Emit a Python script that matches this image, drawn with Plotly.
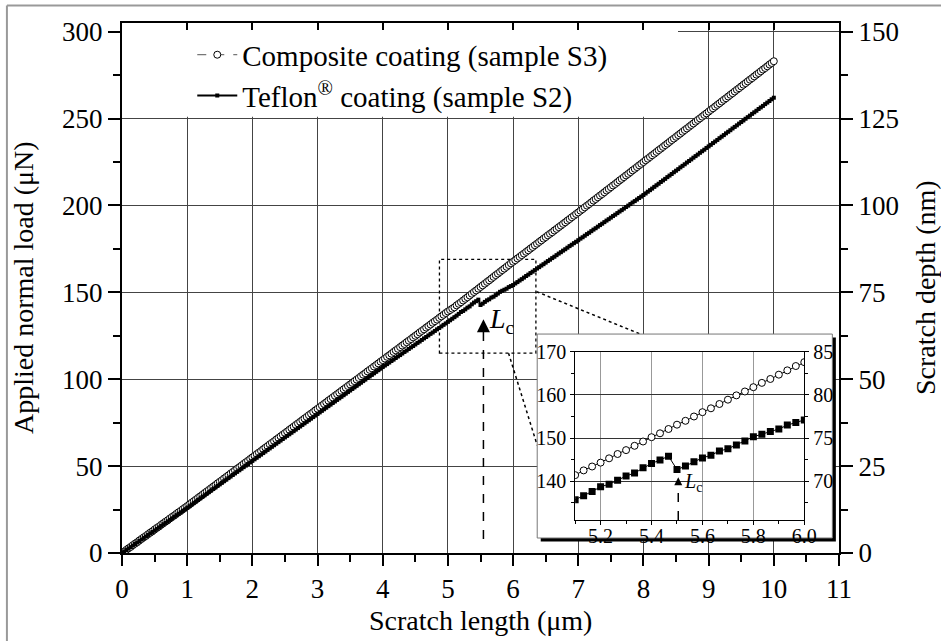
import plotly.graph_objects as go

# ---------------- data ----------------
# scratch length samples: one every 1/30 µm from 0 to 10 µm
n_pts = 301
scratch_len = [round(i / 30, 4) for i in range(n_pts)]

composite_load = [
    0.0,0.8,1.8,2.7,3.5,4.5,5.4,6.2,7.2,8.1,9.0,9.8,10.8,11.7,12.5,13.5,14.4,15.2,16.2,17.1,18.0,18.8,19.8,20.7,21.5,22.5,23.4,24.2,25.2,26.1,
    27.0,27.9,28.9,29.8,30.7,31.7,32.6,33.5,34.5,35.4,36.3,37.3,38.2,39.1,40.1,41.0,41.9,42.9,43.8,44.7,45.7,46.6,47.5,48.5,49.4,50.3,51.3,52.2,53.1,54.1,
    55.0,55.9,56.9,57.8,58.7,59.7,60.6,61.5,62.5,63.4,64.3,65.3,66.2,67.1,68.1,69.0,69.9,70.9,71.8,72.7,73.7,74.6,75.5,76.5,77.4,78.3,79.3,80.2,81.1,82.1,
    83.0,83.9,84.9,85.8,86.7,87.7,88.6,89.5,90.5,91.4,92.3,93.3,94.2,95.1,96.1,97.0,97.9,98.9,99.8,100.7,101.7,102.6,103.5,104.5,105.4,106.3,107.3,108.2,109.1,110.1,
    111.0,111.9,112.9,113.8,114.7,115.7,116.6,117.5,118.5,119.4,120.3,121.3,122.2,123.1,124.1,125.0,125.9,126.9,127.8,128.7,129.7,130.6,131.5,132.5,133.4,134.3,135.3,136.2,137.1,138.1,
    139.0,139.8,140.6,141.4,142.5,143.4,144.3,145.3,146.3,147.2,148.2,149.2,150.2,151.1,152.1,153.1,154.0,155.0,156.0,156.9,157.9,158.9,159.9,160.8,161.8,162.8,163.7,164.7,165.7,166.7,
    167.6,168.5,169.5,170.4,171.4,172.3,173.3,174.2,175.2,176.1,177.1,178.0,179.0,179.9,180.9,181.8,182.8,183.7,184.6,185.6,186.5,187.5,188.4,189.4,190.3,191.3,192.2,193.2,194.1,195.1,
    196.0,197.0,197.9,198.9,199.9,200.8,201.8,202.8,203.7,204.7,205.7,206.6,207.6,208.6,209.5,210.5,211.5,212.4,213.4,214.4,215.3,216.3,217.3,218.2,219.2,220.2,221.1,222.1,223.1,224.0,
    225.0,226.0,226.9,227.9,228.9,229.8,230.8,231.8,232.7,233.7,234.7,235.6,236.6,237.6,238.5,239.5,240.5,241.4,242.4,243.4,244.3,245.3,246.3,247.2,248.2,249.2,250.1,251.1,252.1,253.0,
    254.0,255.0,255.9,256.9,257.9,258.8,259.8,260.8,261.7,262.7,263.7,264.6,265.6,266.6,267.5,268.5,269.5,270.4,271.4,272.4,273.3,274.3,275.3,276.2,277.2,278.2,279.1,280.1,281.1,282.0,283.0,
]

teflon_load = [
    0.0,0.8,1.7,2.6,3.4,4.3,5.2,6.0,6.9,7.8,8.7,9.5,10.4,11.3,12.1,13.0,13.9,14.7,15.6,16.5,17.3,18.2,19.1,19.9,20.8,21.7,22.5,23.4,24.3,25.1,
    26.0,26.9,27.8,28.7,29.6,30.5,31.4,32.3,33.2,34.1,35.0,35.9,36.8,37.7,38.6,39.5,40.4,41.3,42.2,43.1,44.0,44.9,45.8,46.7,47.6,48.5,49.4,50.3,51.2,52.1,
    53.0,53.9,54.8,55.7,56.6,57.5,58.4,59.3,60.2,61.1,62.0,62.9,63.8,64.7,65.6,66.5,67.4,68.3,69.2,70.1,71.0,71.9,72.8,73.7,74.6,75.5,76.4,77.3,78.2,79.1,
    80.0,80.9,81.8,82.7,83.6,84.5,85.4,86.3,87.2,88.1,89.0,89.9,90.8,91.7,92.6,93.5,94.4,95.3,96.2,97.1,98.0,98.9,99.8,100.7,101.6,102.5,103.4,104.3,105.2,106.1,
    107.0,107.9,108.7,109.6,110.5,111.3,112.2,113.1,113.9,114.8,115.7,116.5,117.4,118.3,119.1,120.0,120.9,121.7,122.6,123.5,124.3,125.2,126.1,126.9,127.8,128.7,129.5,130.4,131.3,132.1,
    133.0,133.9,134.8,135.7,136.6,137.6,138.7,139.3,140.2,141.2,141.9,143.1,144.1,144.9,145.8,142.7,143.5,144.5,145.4,146.0,147.0,147.5,148.4,149.3,150.3,150.9,151.5,152.1,153.0,153.6,
    154.2,155.1,155.9,156.8,157.6,158.5,159.4,160.2,161.1,161.9,162.8,163.7,164.5,165.4,166.2,167.1,168.0,168.8,169.7,170.5,171.4,172.3,173.1,174.0,174.8,175.7,176.6,177.4,178.3,179.1,
    180.0,180.9,181.7,182.6,183.5,184.3,185.2,186.1,186.9,187.8,188.7,189.5,190.4,191.3,192.1,193.0,193.9,194.7,195.6,196.5,197.3,198.2,199.1,199.9,200.8,201.7,202.5,203.4,204.3,205.1,
    206.0,206.9,207.9,208.8,209.7,210.7,211.6,212.5,213.5,214.4,215.3,216.3,217.2,218.1,219.1,220.0,220.9,221.9,222.8,223.7,224.7,225.6,226.5,227.5,228.4,229.3,230.3,231.2,232.1,233.1,
    234.0,234.9,235.9,236.8,237.7,238.7,239.6,240.5,241.5,242.4,243.3,244.3,245.2,246.1,247.1,248.0,248.9,249.9,250.8,251.7,252.7,253.6,254.5,255.5,256.4,257.3,258.3,259.2,260.1,261.1,262.0,
]

series_names = ["Composite coating (sample S3)", "Teflon<sup>®</sup> coating (sample S2)"]
x_title = "Scratch length (μm)"
y_title = "Applied normal load (μN)"
y2_title = "Scratch depth (nm)"
lc_label = "<i>L</i><sub>c</sub>"
lc_main_x = 5.545        # position of the Lc marker in the main plot (µm)
lc_inset_x = 5.505       # position of the Lc marker in the inset (µm)
inset_xtickvals = [5.2, 5.4, 5.6, 5.8, 6.0]
inset_xticktext = ["5.2", "5.4", "5.6", "5.8", "6.0"]

FONT = "Liberation Serif, Times New Roman, Times, DejaVu Serif, serif"

fig = go.Figure()

# main traces
fig.add_trace(go.Scatter(
    x=scratch_len, y=composite_load, name=series_names[0], mode="lines+markers",
    line=dict(color="#555", width=1, dash="dash"),
    marker=dict(symbol="circle", size=7, color="white", line=dict(color="black", width=1)),
    xaxis="x", yaxis="y"))
fig.add_trace(go.Scatter(
    x=scratch_len, y=teflon_load, name=series_names[1], mode="lines+markers",
    line=dict(color="black", width=2),
    marker=dict(symbol="square", size=4, color="black"),
    xaxis="x", yaxis="y"))

# Lc marker (main): dashed guide + arrow head
fig.add_trace(go.Scatter(x=[lc_main_x, lc_main_x], y=[8, 131], mode="lines",
                         line=dict(color="black", width=1.5, dash="dash"),
                         showlegend=False, hoverinfo="skip", xaxis="x", yaxis="y"))
fig.add_trace(go.Scatter(x=[lc_main_x], y=[134.5], mode="markers",
                         marker=dict(symbol="arrow-up", size=13, color="black",
                                     line=dict(width=0)),
                         showlegend=False, hoverinfo="skip", xaxis="x", yaxis="y"))

# invisible traces activating top / right axes
fig.add_trace(go.Scatter(x=[0, 11], y=[0, 0], xaxis="x2", yaxis="y", mode="markers",
                         marker=dict(opacity=0), showlegend=False, hoverinfo="skip"))
fig.add_trace(go.Scatter(x=[0, 11], y=[0, 0], xaxis="x", yaxis="y2", mode="markers",
                         marker=dict(opacity=0), showlegend=False, hoverinfo="skip"))

# inset traces
fig.add_trace(go.Scatter(
    x=scratch_len, y=composite_load, mode="lines+markers", showlegend=False,
    line=dict(color="black", width=1),
    marker=dict(symbol="circle", size=7, color="white", line=dict(color="black", width=1)),
    xaxis="x3", yaxis="y3"))
fig.add_trace(go.Scatter(
    x=scratch_len, y=teflon_load, mode="lines+markers", showlegend=False,
    line=dict(color="black", width=1),
    marker=dict(symbol="square", size=7, color="black"),
    xaxis="x3", yaxis="y3"))
fig.add_trace(go.Scatter(x=[lc_inset_x, lc_inset_x], y=[131, 140.2], mode="lines",
                         line=dict(color="black", width=1.5, dash="dash"),
                         showlegend=False, hoverinfo="skip", xaxis="x3", yaxis="y3"))
fig.add_trace(go.Scatter(x=[lc_inset_x], y=[140.9], mode="markers",
                         marker=dict(symbol="arrow-up", size=8, color="black",
                                     line=dict(width=0)),
                         showlegend=False, hoverinfo="skip", xaxis="x3", yaxis="y3"))
fig.add_trace(go.Scatter(x=[5.1, 6.0], y=[66, 66], xaxis="x3", yaxis="y4", mode="markers",
                         marker=dict(opacity=0), showlegend=False, hoverinfo="skip"))

tickfont = dict(family=FONT, size=27, color="black")
insetfont = dict(family=FONT, size=20, color="black")

fig.update_layout(
    width=941, height=641,
    margin=dict(l=122, r=102, t=23, b=88, pad=0),
    paper_bgcolor="white", plot_bgcolor="white",
    font=dict(family=FONT, color="black"),
    showlegend=True,
    legend=dict(x=0.098, y=0.988, xanchor="left", yanchor="top",
                bgcolor="rgba(0,0,0,0)", font=dict(family=FONT, size=29, color="black"),
                tracegroupgap=0, itemwidth=40),
    xaxis=dict(range=[0, 11], dtick=1, tick0=0, ticks="outside", ticklen=11, tickwidth=2,
               tickcolor="black", showline=True, linewidth=2, linecolor="black",
               showgrid=True, gridcolor="#444", gridwidth=1, zeroline=False,
               tickfont=tickfont, domain=[0, 1],
               minor=dict(dtick=0.5, tick0=0, ticks="outside", ticklen=7, tickwidth=2,
                          tickcolor="black", showgrid=False)),
    xaxis2=dict(range=[0, 11], overlaying="x", side="top", anchor="y", dtick=1, tick0=0,
                ticks="inside", ticklen=7, tickwidth=2, tickcolor="black",
                showline=True, linewidth=2, linecolor="black", showgrid=False,
                showticklabels=False, zeroline=False),
    yaxis=dict(range=[0, 305], dtick=50, tick0=0, ticks="outside", ticklen=12, tickwidth=2,
               tickcolor="black", showline=True, linewidth=2, linecolor="black",
               showgrid=True, gridcolor="#444", gridwidth=1, zeroline=False,
               tickfont=tickfont, domain=[0, 1],
               minor=dict(dtick=25, tick0=0, ticks="outside", ticklen=7, tickwidth=2,
                          tickcolor="black", showgrid=False)),
    yaxis2=dict(range=[0, 152.5], overlaying="y", side="right", anchor="x", dtick=25, tick0=0,
                ticks="outside", ticklen=12, tickwidth=2, tickcolor="black",
                showline=True, linewidth=2, linecolor="black", showgrid=False,
                zeroline=False, tickfont=tickfont,
                minor=dict(dtick=12.5, tick0=0, ticks="outside", ticklen=7, tickwidth=2,
                           tickcolor="black", showgrid=False)),
    xaxis3=dict(domain=[0.632, 0.9516], anchor="y3", range=[5.1, 6.0],
                tickvals=inset_xtickvals, ticktext=inset_xticktext,
                ticks="outside", ticklen=4, tickwidth=1, tickcolor="black",
                ticklabelstandoff=-6,
                showline=True, linewidth=1, linecolor="black", mirror=True,
                showgrid=True, gridcolor="#999", gridwidth=1, zeroline=False,
                tickfont=insetfont,
                minor=dict(dtick=0.1, tick0=5.1, ticks="outside", ticklen=3, tickcolor="black",
                           showgrid=False)),
    yaxis3=dict(domain=[0.0623, 0.3796], anchor="x3", range=[131, 170], dtick=10, tick0=140,
                ticks="outside", ticklen=4, tickwidth=1, tickcolor="black",
                showline=True, linewidth=1, linecolor="black",
                showgrid=True, gridcolor="#333", gridwidth=1, zeroline=False,
                tickfont=insetfont,
                minor=dict(dtick=5, tick0=135, ticks="outside", ticklen=3, tickcolor="black",
                           showgrid=False)),
    yaxis4=dict(overlaying="y3", side="right", anchor="x3", range=[65.5, 85], dtick=5, tick0=70,
                ticks="outside", ticklen=4, tickwidth=1, tickcolor="black",
                showline=True, linewidth=1, linecolor="black", showgrid=False,
                zeroline=False, tickfont=insetfont,
                minor=dict(dtick=2.5, tick0=67.5, ticks="outside", ticklen=3, tickcolor="black",
                           showgrid=False)),
)

shapes = []
# white area behind the legend (hides grid)
shapes.append(dict(type="rect", xref="x", yref="y", x0=0, x1=8.53, y0=251, y1=305,
                   fillcolor="white", line=dict(width=0), layer="between"))
# dotted zoom rectangle
shapes.append(dict(type="rect", xref="x", yref="y", x0=4.87, x1=6.35, y0=115, y1=169,
                   line=dict(color="black", width=1.3, dash="dot"), layer="between"))
# connector lines
shapes.append(dict(type="line", xref="x", yref="y", x0=6.36, y0=150.4, x1=7.95, y1=126,
                   line=dict(color="black", width=1.5, dash="dot"), layer="between"))
shapes.append(dict(type="line", xref="x", yref="y", x0=5.93, y0=115, x1=6.37, y1=62,
                   line=dict(color="black", width=1.5, dash="dot"), layer="between"))
# inset shadow and box
shapes.append(dict(type="rect", xref="x", yref="y", x0=6.424, x1=10.952, y0=6.6, y1=124.0,
                   fillcolor="black", line=dict(width=0), layer="between"))
shapes.append(dict(type="rect", xref="x", yref="y", x0=6.37, x1=10.898, y0=8.63, y1=126.0,
                   fillcolor="white", line=dict(color="#777", width=1), layer="between"))
# outer grey frame
shapes.append(dict(type="line", xref="paper", yref="paper", x0=-0.1605, x1=-0.1605,
                   y0=-0.2, y1=1.0331, line=dict(color="#999", width=2), layer="above"))
shapes.append(dict(type="line", xref="paper", yref="paper", x0=-0.1605, x1=1.2,
                   y0=1.0331, y1=1.0331, line=dict(color="#999", width=2), layer="above"))
fig.update_layout(shapes=shapes)

annotations = [
    dict(x=5.6, y=134, xref="x", yref="y", text=lc_label, showarrow=False,
         xanchor="left", yanchor="middle", font=dict(family=FONT, size=28, color="black")),
    dict(x=5.52, y=139.6, xref="x3", yref="y3", text=lc_label, showarrow=False,
         xanchor="left", yanchor="middle", font=dict(family=FONT, size=20, color="black")),
    # axis titles
    dict(x=0.5, y=-0.1265, xref="paper", yref="paper", text=x_title, showarrow=False,
         xanchor="center", yanchor="middle", font=dict(family=FONT, size=28, color="black")),
    dict(x=-0.138, y=0.5, xref="paper", yref="paper", text=y_title, showarrow=False,
         textangle=-90, xanchor="center", yanchor="middle",
         font=dict(family=FONT, size=28, color="black")),
    dict(x=1.12, y=0.5, xref="paper", yref="paper", text=y2_title, showarrow=False,
         textangle=-90, xanchor="center", yanchor="middle",
         font=dict(family=FONT, size=28, color="black")),
]
fig.update_layout(annotations=annotations)

fig.write_html("out.html")
